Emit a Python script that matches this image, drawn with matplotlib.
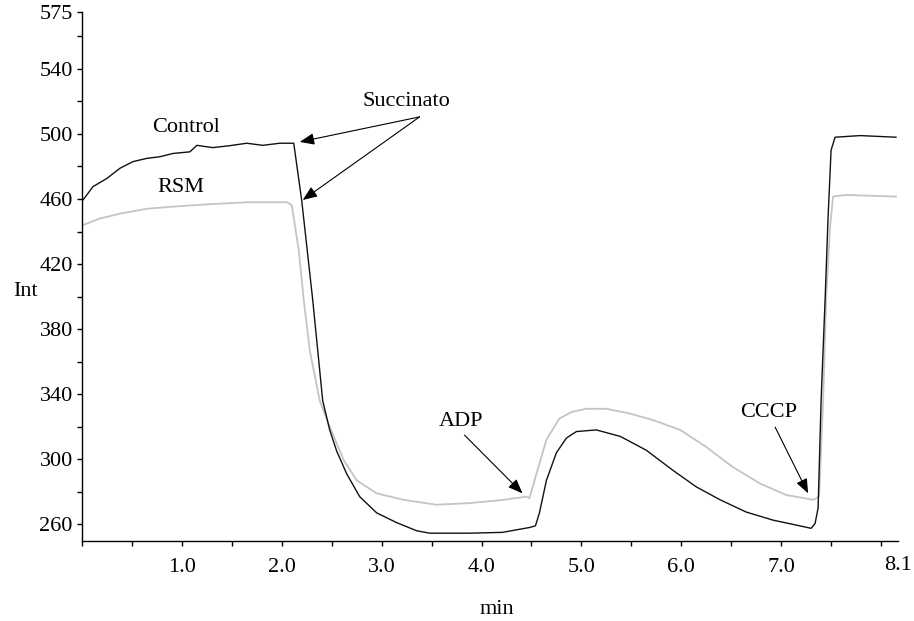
import matplotlib
matplotlib.use("Agg")
import matplotlib.pyplot as plt
from matplotlib.ticker import FixedLocator

plt.rcParams['font.family'] = ['Liberation Serif', 'DejaVu Serif']

# --- data ---
control_t = [0.01, 0.11, 0.25, 0.38, 0.51, 0.65, 0.78, 0.91, 1.08, 1.15, 1.31, 1.48,
             1.65, 1.81, 1.98, 2.12,
             2.20, 2.31, 2.41, 2.48, 2.55, 2.65, 2.78, 2.95, 3.15, 3.35, 3.48,
             3.88, 4.21, 4.48, 4.54, 4.58, 4.65, 4.75, 4.85, 4.95, 5.15, 5.39, 5.65,
             5.92, 6.15, 6.39, 6.65, 6.92, 7.15, 7.30, 7.34, 7.37, 7.40, 7.44, 7.47,
             7.50, 7.54, 7.79, 8.15]
control_v = [459.4, 467.6, 472.7, 478.9, 483, 485, 486, 488, 489, 493, 491.6, 492.8,
             494.3, 493, 494.3, 494.3,
             459, 398, 336, 318, 305, 291, 277, 267, 261, 256, 254.5,
             254.5, 255, 258, 259, 267, 287, 304, 313, 317, 318, 314, 305.5,
             293, 283, 275, 267.5, 262.5, 259.5, 257.5, 260.5, 270, 336, 398, 449,
             490, 498, 499, 498]

rsm_t = [0.01, 0.18, 0.38, 0.65, 0.91, 1.25, 1.65, 2.05, 2.10, 2.17, 2.22, 2.28, 2.38,
         2.48, 2.62, 2.75, 2.95, 3.22, 3.55, 3.88, 4.22, 4.45, 4.48, 4.55, 4.65,
         4.78, 4.90, 5.05, 5.25, 5.49, 5.72, 5.99, 6.25, 6.52, 6.79, 7.05, 7.32,
         7.38, 7.42, 7.45, 7.49, 7.52, 7.65, 8.15]
rsm_v = [444, 448, 451, 454, 455.3, 456.7, 458, 458, 456.3, 428.6, 398, 367, 336,
         320, 299.5, 287, 279, 275, 272, 273, 275, 277, 276, 291, 312,
         325, 329, 331, 331, 328, 324, 318, 307.5, 295, 285, 278, 275,
         277, 336, 398, 443, 461.5, 462.5, 461.5]

x_major = [1.0, 2.0, 3.0, 4.0, 5.0, 6.0, 7.0]
x_labels = ["1.0", "2.0", "3.0", "4.0", "5.0", "6.0", "7.0"]
x_minor = [0.0, 0.5, 1.5, 2.5, 3.5, 4.5, 5.5, 6.5, 7.5, 8.0]
x_end_label = "8.1"
y_major = [260, 300, 340, 380, 420, 460, 500, 540, 575]
y_minor = [280, 320, 360, 400, 440, 480, 520, 560]

fig = plt.figure(figsize=(9.14, 6.21), dpi=100)
ax = fig.add_axes([82/914, 1 - 540.5/621, (898 - 82)/914, (540.5 - 12)/621])

ax.plot(rsm_t, rsm_v, color='#c4c4c4', lw=1.3)
ax.plot(control_t, control_v, color='#111111', lw=1.0)

ax.set_xlim(0, 8.17)
ax.set_ylim(250, 575)

for s in ['top', 'right']:
    ax.spines[s].set_visible(False)
for s in ['left', 'bottom']:
    ax.spines[s].set_linewidth(1.0)

ax.xaxis.set_major_locator(FixedLocator(x_major))
ax.set_xticklabels(x_labels)
ax.xaxis.set_minor_locator(FixedLocator(x_minor))
ax.yaxis.set_major_locator(FixedLocator(y_major))
ax.set_yticklabels([str(v) for v in y_major])
ax.yaxis.set_minor_locator(FixedLocator(y_minor))

ax.tick_params(axis='both', which='both', direction='out', length=3.6, width=1.0)
ax.tick_params(axis='x', which='major', labelsize=16, pad=9)
ax.tick_params(axis='y', which='major', labelsize=16, pad=3)

ax.text(8.17, 249.5 - 24 / 1.625, x_end_label, fontsize=16, ha='center', va='center',
        clip_on=False)

fig.text(26/914, 1 - 291/621, "Int", fontsize=16, ha='center', va='center')
fig.text(497/914, 1 - 610/621, "min", fontsize=16, ha='center', va='center')

ax.text(1.04, 503.7, "Control", fontsize=16, ha='center', va='center')
ax.text(0.99, 466.8, "RSM", fontsize=16, ha='center', va='center')

aprops = dict(arrowstyle='-|>,head_length=0.55,head_width=0.22', color='black', lw=0.8,
              shrinkA=0, shrinkB=0, mutation_scale=16)
ax.text(3.25, 519.7, "Succinato", fontsize=16, ha='center', va='center')
ax.annotate("", xy=(2.18, 495.1), xytext=(3.38, 510.5), arrowprops=aprops)
ax.annotate("", xy=(2.21, 459.4), xytext=(3.38, 510.5), arrowprops=aprops)

ax.text(3.79, 323.4, "ADP", fontsize=16, ha='center', va='center')
ax.annotate("", xy=(4.41, 279), xytext=(3.83, 314.8), arrowprops=aprops)

ax.text(6.87, 329, "CCCP", fontsize=16, ha='center', va='center')
ax.annotate("", xy=(7.27, 279), xytext=(6.94, 319.7), arrowprops=aprops)

fig.savefig("out.png", dpi=100)
